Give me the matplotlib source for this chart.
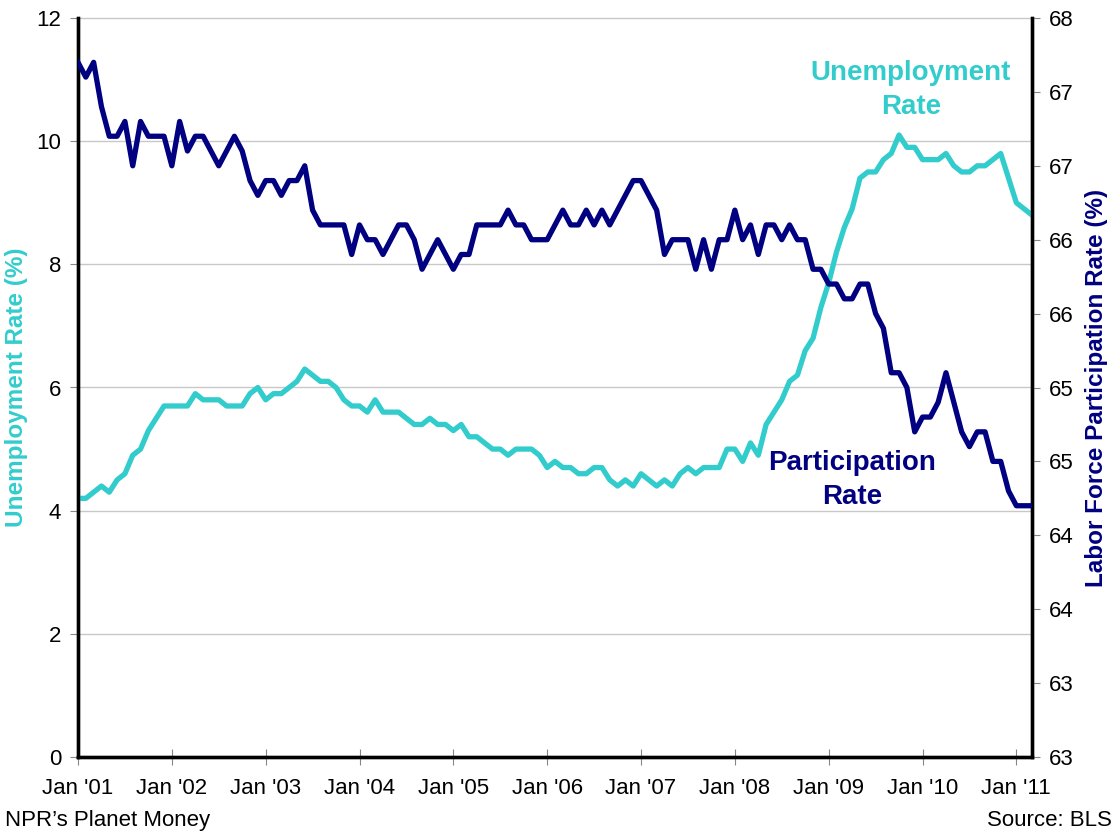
import matplotlib
matplotlib.use("Agg")
import matplotlib.pyplot as plt
import numpy as np

plt.rcParams["font.family"] = ["Liberation Sans", "DejaVu Sans"]

CYAN = "#33CCCC"
NAVY = "#000080"

# monthly values, Jan 2001 .. Mar 2011
unemployment = [
    4.2, 4.2, 4.3, 4.4, 4.3, 4.5, 4.6, 4.9, 5.0, 5.3, 5.5, 5.7,
    5.7, 5.7, 5.7, 5.9, 5.8, 5.8, 5.8, 5.7, 5.7, 5.7, 5.9, 6.0,
    5.8, 5.9, 5.9, 6.0, 6.1, 6.3, 6.2, 6.1, 6.1, 6.0, 5.8, 5.7,
    5.7, 5.6, 5.8, 5.6, 5.6, 5.6, 5.5, 5.4, 5.4, 5.5, 5.4, 5.4,
    5.3, 5.4, 5.2, 5.2, 5.1, 5.0, 5.0, 4.9, 5.0, 5.0, 5.0, 4.9,
    4.7, 4.8, 4.7, 4.7, 4.6, 4.6, 4.7, 4.7, 4.5, 4.4, 4.5, 4.4,
    4.6, 4.5, 4.4, 4.5, 4.4, 4.6, 4.7, 4.6, 4.7, 4.7, 4.7, 5.0,
    5.0, 4.8, 5.1, 4.9, 5.4, 5.6, 5.8, 6.1, 6.2, 6.6, 6.8, 7.3,
    7.7, 8.2, 8.6, 8.9, 9.4, 9.5, 9.5, 9.7, 9.8, 10.1, 9.9, 9.9,
    9.7, 9.7, 9.7, 9.8, 9.6, 9.5, 9.5, 9.6, 9.6, 9.7, 9.8, 9.4,
    9.0, 8.9, 8.8,
]

participation = [
    67.2, 67.1, 67.2, 66.9, 66.7, 66.7, 66.8, 66.5, 66.8, 66.7, 66.7, 66.7,
    66.5, 66.8, 66.6, 66.7, 66.7, 66.6, 66.5, 66.6, 66.7, 66.6, 66.4, 66.3,
    66.4, 66.4, 66.3, 66.4, 66.4, 66.5, 66.2, 66.1, 66.1, 66.1, 66.1, 65.9,
    66.1, 66.0, 66.0, 65.9, 66.0, 66.1, 66.1, 66.0, 65.8, 65.9, 66.0, 65.9,
    65.8, 65.9, 65.9, 66.1, 66.1, 66.1, 66.1, 66.2, 66.1, 66.1, 66.0, 66.0,
    66.0, 66.1, 66.2, 66.1, 66.1, 66.2, 66.1, 66.2, 66.1, 66.2, 66.3, 66.4,
    66.4, 66.3, 66.2, 65.9, 66.0, 66.0, 66.0, 65.8, 66.0, 65.8, 66.0, 66.0,
    66.2, 66.0, 66.1, 65.9, 66.1, 66.1, 66.0, 66.1, 66.0, 66.0, 65.8, 65.8,
    65.7, 65.7, 65.6, 65.6, 65.7, 65.7, 65.5, 65.4, 65.1, 65.1, 65.0, 64.7,
    64.8, 64.8, 64.9, 65.1, 64.9, 64.7, 64.6, 64.7, 64.7, 64.5, 64.5, 64.3,
    64.2, 64.2, 64.2,
]

x_tick_labels = ["Jan '01", "Jan '02", "Jan '03", "Jan '04", "Jan '05", "Jan '06",
                 "Jan '07", "Jan '08", "Jan '09", "Jan '10", "Jan '11"]
left_ticks = [0, 2, 4, 6, 8, 10, 12]
right_ticks = [62.5, 63.0, 63.5, 64.0, 64.5, 65.0, 65.5, 66.0, 66.5, 67.0, 67.5]
right_tick_labels = ["63", "63", "64", "64", "65", "65", "66", "66", "67", "67", "68"]

months = np.arange(len(unemployment))

fig = plt.figure(figsize=(11.2, 8.38), dpi=100)
ax = fig.add_axes([78 / 1120, 1 - 757 / 838, (1032 - 78) / 1120, (757 - 18) / 838])
ax2 = ax.twinx()

ax.plot(months, unemployment, color=CYAN, lw=3.8, solid_joinstyle="round", zorder=3)
ax2.plot(months, participation, color=NAVY, lw=3.8, solid_joinstyle="round", zorder=3)

ax.set_xlim(0, len(unemployment) - 1)
ax.set_ylim(0, 12)
ax2.set_ylim(62.5, 67.5)

ax.set_xticks(np.arange(0, len(unemployment), 12))
ax.set_xticklabels(x_tick_labels)
ax.set_yticks(left_ticks)
ax.set_yticklabels([str(t) for t in left_ticks])
ax2.set_yticks(right_ticks)
ax2.set_yticklabels(right_tick_labels)

ax.yaxis.grid(True, color="#c8c8c8", lw=1.0)
ax.set_axisbelow(True)
for gl in ax.get_ygridlines():
    gl.set_clip_on(False)

for a in (ax, ax2):
    a.spines["top"].set_visible(False)
    for side in ("left", "right", "bottom"):
        a.spines[side].set_linewidth(2.4)
        a.spines[side].set_color("black")

ax.tick_params(axis="y", direction="out", length=6, width=0.8, color="#888888",
               labelsize=16, pad=6)
ax.tick_params(axis="x", direction="inout", length=12, width=0.8, color="#888888",
               labelsize=16, pad=9)
ax2.tick_params(axis="y", direction="out", length=6, width=0.8, color="#888888",
                labelsize=16, pad=6)

ax.set_ylabel("Unemployment Rate (%)", color=CYAN, fontsize=17.5, fontweight="bold",
              labelpad=6)
ax2.set_ylabel("Labor Force Participation Rate (%)", color=NAVY, fontsize=17.5,
               fontweight="bold", labelpad=8)

ax.text(106.5, 10.83, "Unemployment\nRate", color=CYAN, fontsize=20, fontweight="bold",
        ha="center", va="center", linespacing=1.4)
ax.text(99, 4.5, "Participation\nRate", color=NAVY, fontsize=20, fontweight="bold",
        ha="center", va="center", linespacing=1.4)

fig.text(5 / 1120, 1 - 820 / 838, "NPR\u2019s Planet Money", fontsize=16,
         ha="left", va="center")
fig.text(1112 / 1120, 1 - 820 / 838, "Source: BLS", fontsize=16,
         ha="right", va="center")

fig.savefig("out.png", dpi=100)
